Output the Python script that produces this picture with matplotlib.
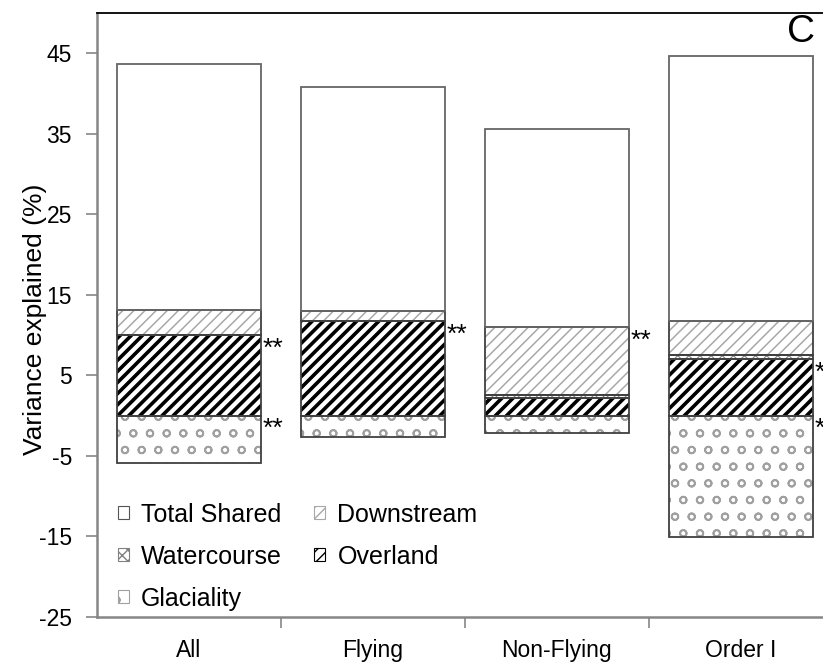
import numpy as np
import matplotlib
matplotlib.use("Agg")
import matplotlib.pyplot as plt
from matplotlib.patches import Rectangle

plt.rcParams['font.family'] = ['Liberation Sans', 'DejaVu Sans']
plt.rcParams['axes.unicode_minus'] = False

# variance partitioning per group (%)
categories = ['All', 'Flying', 'Non-Flying', 'Order I']
glaciality = [-5.9, -2.7, -2.2, -15.1]
overland = [10.0, 11.7, 2.2, 7.0]
watercourse = [0.0, 0.0, 0.4, 0.5]
downstream = [3.1, 1.3, 8.4, 4.2]
total_shared = [30.6, 27.8, 24.6, 32.9]

# significance marks for the fractions
overland_sig = ['**', '**', '', '*']
downstream_sig = ['', '', '**', '']
glaciality_sig = ['**', '', '', '**']

yticks = [-25, -15, -5, 5, 15, 25, 35, 45]

x = np.arange(len(categories))
w = 0.78
edge = '#404040'

fig = plt.figure(figsize=(8.23, 6.66), dpi=100)
ax = fig.add_axes([0.1179, 0.0736, 0.894, 0.907])


def patterned(vals, bottom, hatch, hcolor, hlw, outline=edge):
    bars = ax.bar(x, vals, w, bottom=bottom, color='white', edgecolor=hcolor,
                  hatch=hatch, linewidth=0, zorder=2)
    for b in bars:
        b.set_hatch_linewidth(hlw)
    ax.bar(x, vals, w, bottom=bottom, fill=False, edgecolor=outline,
           linewidth=1.3, zorder=3)


styles = {
    'Total Shared': ('', '#808080', 1.0),
    'Downstream': ('///', '#a8a8a8', 1.1),
    'Watercourse': ('xxx', '#808080', 0.8),
    'Overland': ('///', 'black', 2.6),
    'Glaciality': ('o', '#a0a0a0', 1.3),
}

ov = np.array(overland)
wc = np.array(watercourse)
ds = np.array(downstream)

patterned(glaciality, 0, *styles['Glaciality'])
patterned(overland, 0, *styles['Overland'])
patterned(watercourse, ov, *styles['Watercourse'])
patterned(downstream, ov + wc, *styles['Downstream'])
patterned(total_shared, ov + wc + ds, *styles['Total Shared'], outline='#666666')

# stars next to the significant fractions
tops = [(overland_sig, ov), (downstream_sig, ov + wc + ds),
        (glaciality_sig, np.zeros(len(x)))]
for sig, top in tops:
    for i, s in enumerate(sig):
        if s:
            ax.text(x[i] + w / 2 + 0.01, top[i] - 0.2, s, ha='left', va='top',
                    fontsize=19, clip_on=False)

ax.set_xlim(-0.5, 3.5)
ax.set_ylim(-25, 50)
ax.set_yticks(yticks)
ax.set_xticks(x)
ax.set_xticklabels(categories)
ax.set_xticks([0.5, 1.5, 2.5], minor=True)
ax.tick_params(axis='y', direction='out', length=8, width=1.2, color='#868686',
               labelsize=16.5, pad=10)
ax.tick_params(axis='x', which='major', length=0, labelsize=16.5, pad=16)
ax.tick_params(axis='x', which='minor', direction='out', length=8, width=1.2,
               color='#868686')

for side in ['left', 'bottom']:
    ax.spines[side].set_color('#868686')
    ax.spines[side].set_linewidth(1.8)
ax.spines['top'].set_color('black')
ax.spines['top'].set_linewidth(1.3)
ax.spines['right'].set_visible(False)

ax.set_ylabel('Variance explained (%)', fontsize=19)
ax.yaxis.set_label_coords(-0.068, 0.493)

# legend: column order gives Total Shared, Downstream / Watercourse, Overland / Glaciality
order = ['Total Shared', 'Watercourse', 'Glaciality', 'Downstream', 'Overland']
handles = []
for name in order:
    hatch, hcolor, hlw = styles[name]
    handles.append(Rectangle((0, 0), 1, 1, facecolor='white',
                             edgecolor='#555555' if name == 'Total Shared' else hcolor,
                             hatch=hatch, linewidth=0.8))
fig.legend(handles, order, ncol=2, loc='upper left',
           bbox_to_anchor=(0.1434, 0.245), frameon=False, fontsize=18,
           handlelength=0.42, handleheight=0.42, handletextpad=0.5,
           labelspacing=0.72, columnspacing=1.3, borderpad=0, borderaxespad=0)

fig.text(0.973, 0.952, 'C', fontsize=28, ha='center', va='center')

fig.savefig('out.png', dpi=100)
